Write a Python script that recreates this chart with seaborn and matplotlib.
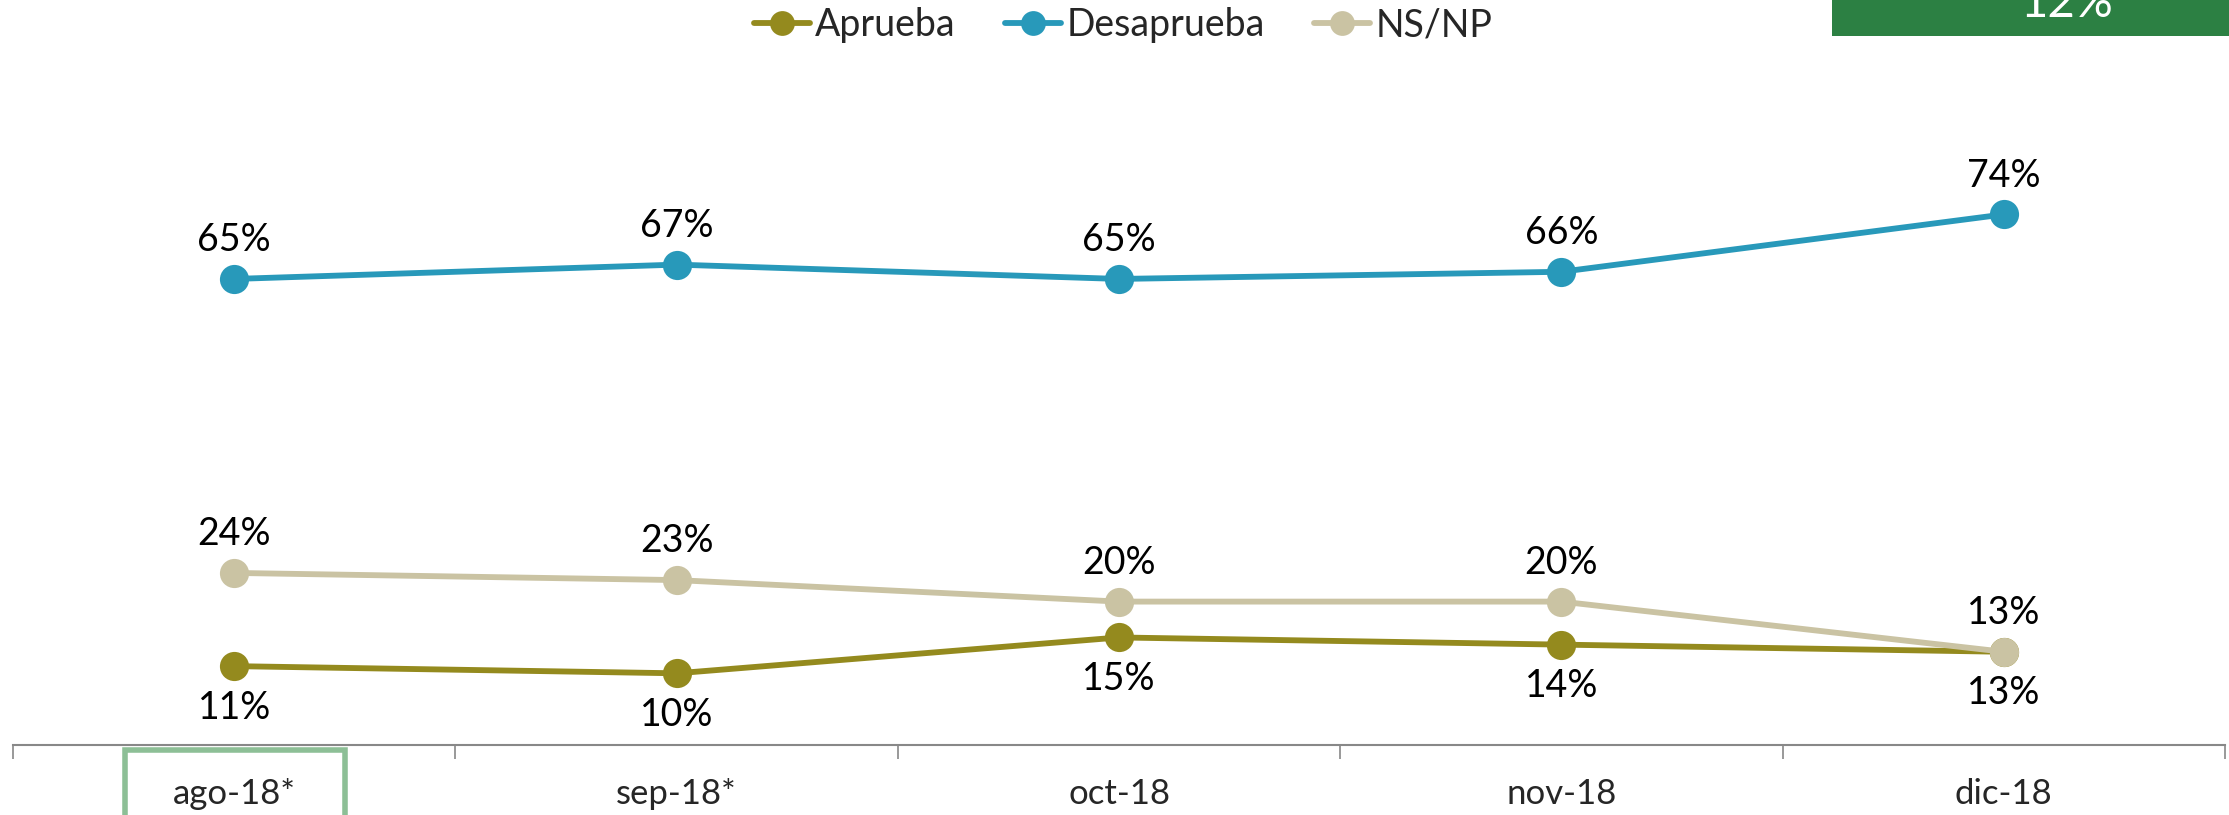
import numpy as np
import pandas as pd
import matplotlib
matplotlib.use("Agg")
import matplotlib.pyplot as plt
from matplotlib.patches import Rectangle
import seaborn as sns

# --- data ---
months = ["ago-18*", "sep-18*", "oct-18", "nov-18", "dic-18"]
aprueba = [11, 10, 15, 14, 13]
desaprueba = [65, 67, 65, 66, 74]
nsnp = [24, 23, 20, 20, 13]
series_names = ["Aprueba", "Desaprueba", "NS/NP"]
badge_text = "12%"

sns.set_theme(style="white")
plt.rcParams["font.family"] = ["Lato", "DejaVu Sans"]

colors = {"Aprueba": "#948A1E", "Desaprueba": "#2899BA", "NS/NP": "#CAC3A3"}
label_side = {"Aprueba": -1, "Desaprueba": 1, "NS/NP": 1}

df = pd.DataFrame({
    "pos": np.tile(np.arange(len(months)), 3),
    "valor": aprueba + desaprueba + nsnp,
    "serie": np.repeat(series_names, len(months)),
})

fig = plt.figure(figsize=(22.29, 8.15), dpi=100)
ax = fig.add_axes([13 / 2229, 1 - 745 / 815, (2225 - 13) / 2229, (745 - 28) / 815])

for name in series_names:
    sub = df[df["serie"] == name]
    sns.lineplot(data=sub, x="pos", y="valor", ax=ax, color=colors[name],
                 marker="o", markersize=21, markeredgewidth=0, linewidth=4.2,
                 label=name, zorder=3 if name == "NS/NP" else 2)
    for x, v in zip(sub["pos"], sub["valor"]):
        off = 28 if label_side[name] > 0 else -30
        ax.annotate(f"{v}%", (x, v), xytext=(0, off), textcoords="offset points",
                    ha="center", va="center", fontsize=27, color="black")

ax.set_xlim(-0.5, len(months) - 0.5)
ax.set_ylim(0, 100)
ax.set_xlabel("")
ax.set_ylabel("")
ax.set_yticks([])
ax.set_xticks(range(len(months)))
ax.set_xticklabels(months, fontsize=25)
ax.set_xticks(np.arange(-0.5, len(months)), minor=True)
ax.tick_params(axis="x", which="major", length=0, pad=24)
ax.tick_params(axis="x", which="minor", length=10, width=1.2, color="#888888", bottom=True)
for s in ["top", "right", "left"]:
    ax.spines[s].set_visible(False)
ax.spines["bottom"].set_color("#888888")
ax.spines["bottom"].set_linewidth(1.5)

ax.legend(loc="center", bbox_to_anchor=(1123 / 2229, 1 - 25 / 815), bbox_transform=fig.transFigure,
          ncol=3, frameon=False, fontsize=27, handlelength=1.5, handletextpad=0.15,
          columnspacing=1.3, markerscale=0.85)

# green badge top right
fig.patches.append(Rectangle((1832 / 2229, 1 - 36 / 815), (2229 - 1832) / 2229, 36 / 815,
                             transform=fig.transFigure, facecolor="#2C8043", edgecolor="none"))
fig.text(2067 / 2229, 1 - 17 / 815, badge_text, ha="center", va="baseline",
         fontsize=34, color="white")

# highlight box around first month
fig.patches.append(Rectangle((125 / 2229, -0.05), (345 - 125) / 2229, 0.05 + (815 - 750) / 815,
                             transform=fig.transFigure, facecolor="none",
                             edgecolor="#8DBF96", linewidth=4))

fig.savefig("out.png", dpi=100)
